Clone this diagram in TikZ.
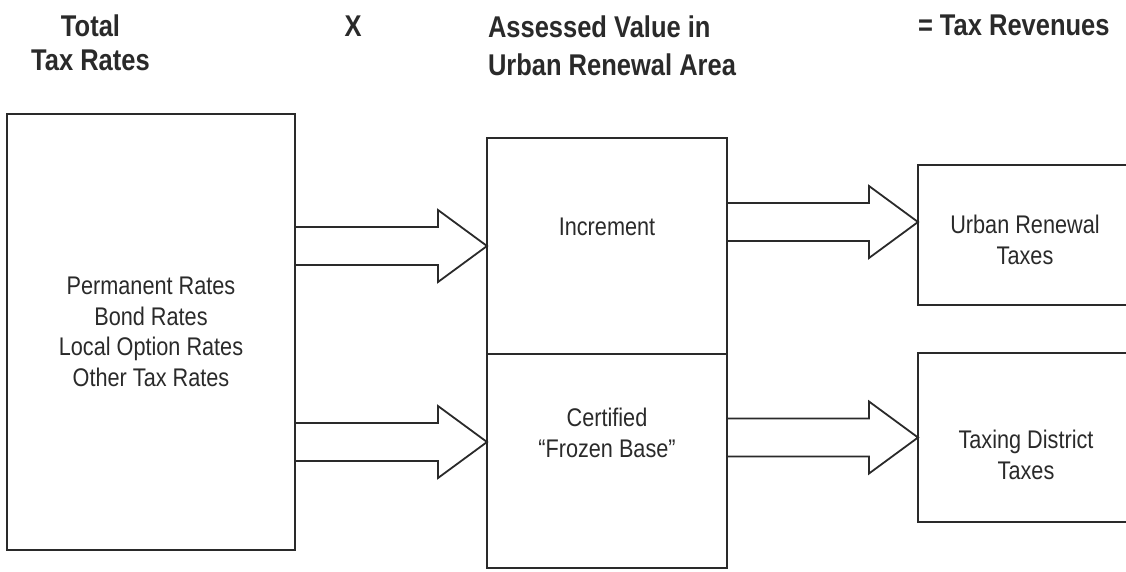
\documentclass[tikz,border=0pt]{standalone}
\usepackage{fontspec}
\setmainfont{Liberation Sans}[FakeStretch=0.85]
\usepackage{tikz}
\usetikzlibrary{calc}
\definecolor{ink}{HTML}{2A2A2A}
\tikzset{
	flow diagram/.style={
		x=1pt, y=-1pt,
		color=ink,
		line width=2pt,
		line join=miter,
		every node/.style={inner sep=0pt, outer sep=0pt},
		},
	box/.style 2 args={draw, rectangle, minimum width=#1pt, minimum height=#2pt},
	fat/.style={line width=1.8pt},
	head/.style={font=\fontsize{30}{34}\selectfont\bfseries},
	body/.style={font=\fontsize{25.5}{30.5}\selectfont, align=center},
}
% block arrow from the east side of #1 to the west side of #2, at height #3
\newcommand{\fatarrow}[3]{%
	\draw[fat] let \p1=(#1.east), \p2=(#2.west) in
		(\x1,#3-19) -- (\x2-49,#3-19) -- (\x2-49,#3-36) -- (\x2,#3)
		-- (\x2-49,#3+36) -- (\x2-49,#3+19) -- (\x1,#3+19);}

\begin{document}
\begin{tikzpicture}[flow diagram]
	\useasboundingbox (0,0) rectangle (1126,571);
	\clip (0,0) rectangle (1126,571);
	% column heads (base = last line)
	\node[head, align=center, anchor=base] (hRates) at (90.5,70) {Total\\Tax Rates};
	\node[head, anchor=base] (hTimes) at (353,36) {X};
	\node[head, align=left, anchor=base west, font=\fontsize{30}{38}\selectfont\bfseries] (hValue) at (488,75) {Assessed Value in\\Urban Renewal Area};
	\node[head, anchor=base west] (hRevenue) at (918,35) {= Tax Revenues};
	% boxes
	\node[box={288}{436}, body] (Rates) at (151,332) {Permanent Rates\\Bond Rates\\Local Option Rates\\Other Tax Rates};
	\node[box={240}{216}] (Incr) at (607,246) {};
	\node[box={240}{214}] (Frozen) at (607,461) {};
	\node[box={216}{140}] (URTax) at (1026,235) {};
	\node[box={216}{169}] (TDTax) at (1026,437.5) {};
	% box texts
	\node[body, anchor=base] (tIncr) at (607,235) {Increment};
	\node[body, anchor=base] (tFrozen) at (607,457) {Certified\\``Frozen Base''};
	\node[body, anchor=base] (tURTax) at (1025,264) {Urban Renewal\\Taxes};
	\node[body, anchor=base] (tTDTax) at (1026,479) {Taxing District\\Taxes};
	% arrows
	\fatarrow{Rates}{Incr}{246}
	\fatarrow{Rates}{Frozen}{442}
	\fatarrow{Incr}{URTax}{222}
	\fatarrow{Frozen}{TDTax}{437.5}
\end{tikzpicture}
\end{document}
